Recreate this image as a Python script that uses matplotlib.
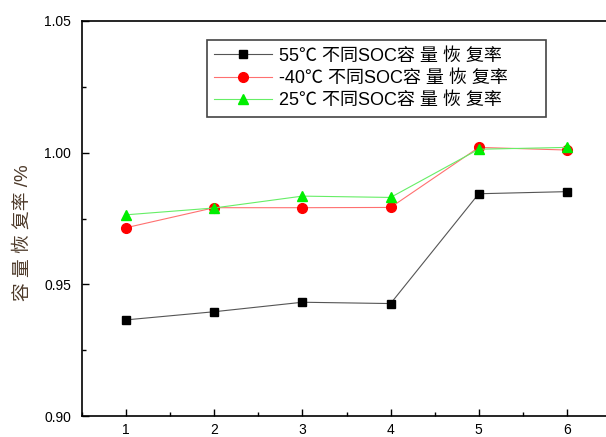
import matplotlib
matplotlib.use('Agg')
from matplotlib import pyplot as plt
from matplotlib.ticker import MultipleLocator

plt.rcParams['font.family'] = ['Liberation Sans', 'Noto Sans CJK SC']

soc_points = [1, 2, 3, 4, 5, 6]
recovery_55 = [0.9365, 0.9396, 0.9432, 0.9427, 0.9844, 0.9852]
recovery_m40 = [0.9715, 0.9791, 0.9791, 0.9792, 1.0020, 1.0010]
recovery_25 = [0.9764, 0.9790, 0.9835, 0.9830, 1.0013, 1.0020]

labels = ['55\u2103 不同SOC容 量 恢 复率',
          '-40\u2103 不同SOC容 量 恢 复率',
          '25\u2103 不同SOC容 量 恢 复率']

fig = plt.figure(figsize=(6.06, 4.37), dpi=100)
# right edge of the frame runs just past the figure border
ax = fig.add_axes([82/606, 21/437, 529/606, 395/437])

ax.plot(soc_points, recovery_55, color='#555555', lw=0.8, marker='s',
        ms=6, mfc='black', mec='black', label=labels[0])
ax.plot(soc_points, recovery_m40, color='#ff7070', lw=0.8, marker='o',
        ms=7, mfc='red', mec='red', label=labels[1])
ax.plot(soc_points, recovery_25, color='#66ee66', lw=0.8, marker='^',
        ms=7.5, mfc='#00ee00', mec='#00ee00', label=labels[2])

ax.set_xlim(0.5, 6.5)
ax.set_ylim(0.90, 1.05)
ax.set_xticks(soc_points)
ax.set_yticks([0.90, 0.95, 1.00, 1.05])
ax.set_yticklabels(['0.90', '0.95', '1.00', '1.05'])
ax.xaxis.set_minor_locator(MultipleLocator(0.5))
ax.yaxis.set_minor_locator(MultipleLocator(0.025))
ax.tick_params(which='both', direction='in', labelsize=10, width=1)
ax.tick_params(which='major', length=5, pad=8)
ax.tick_params(which='minor', length=3)
ax.tick_params(axis='x', which='major', pad=5)
for s in ax.spines.values():
    s.set_linewidth(1.2)

ax.set_ylabel('容 量 恢 复率 /%', fontsize=13.5, color='#4d3a2a')
ax.yaxis.set_label_coords(-0.095, 0.465)

# wide single-column legend box
leg = ax.legend(loc='upper left', bbox_to_anchor=(0.236, 0.952, 0.641, 0),
                mode='expand', borderaxespad=0, fontsize=13,
                handlelength=3.2, fancybox=False, framealpha=1,
                edgecolor='#444444', borderpad=0.42, labelspacing=0.3,
                handletextpad=0.4)
leg.get_frame().set_linewidth(1.2)

fig.savefig('out.png', dpi=100)
